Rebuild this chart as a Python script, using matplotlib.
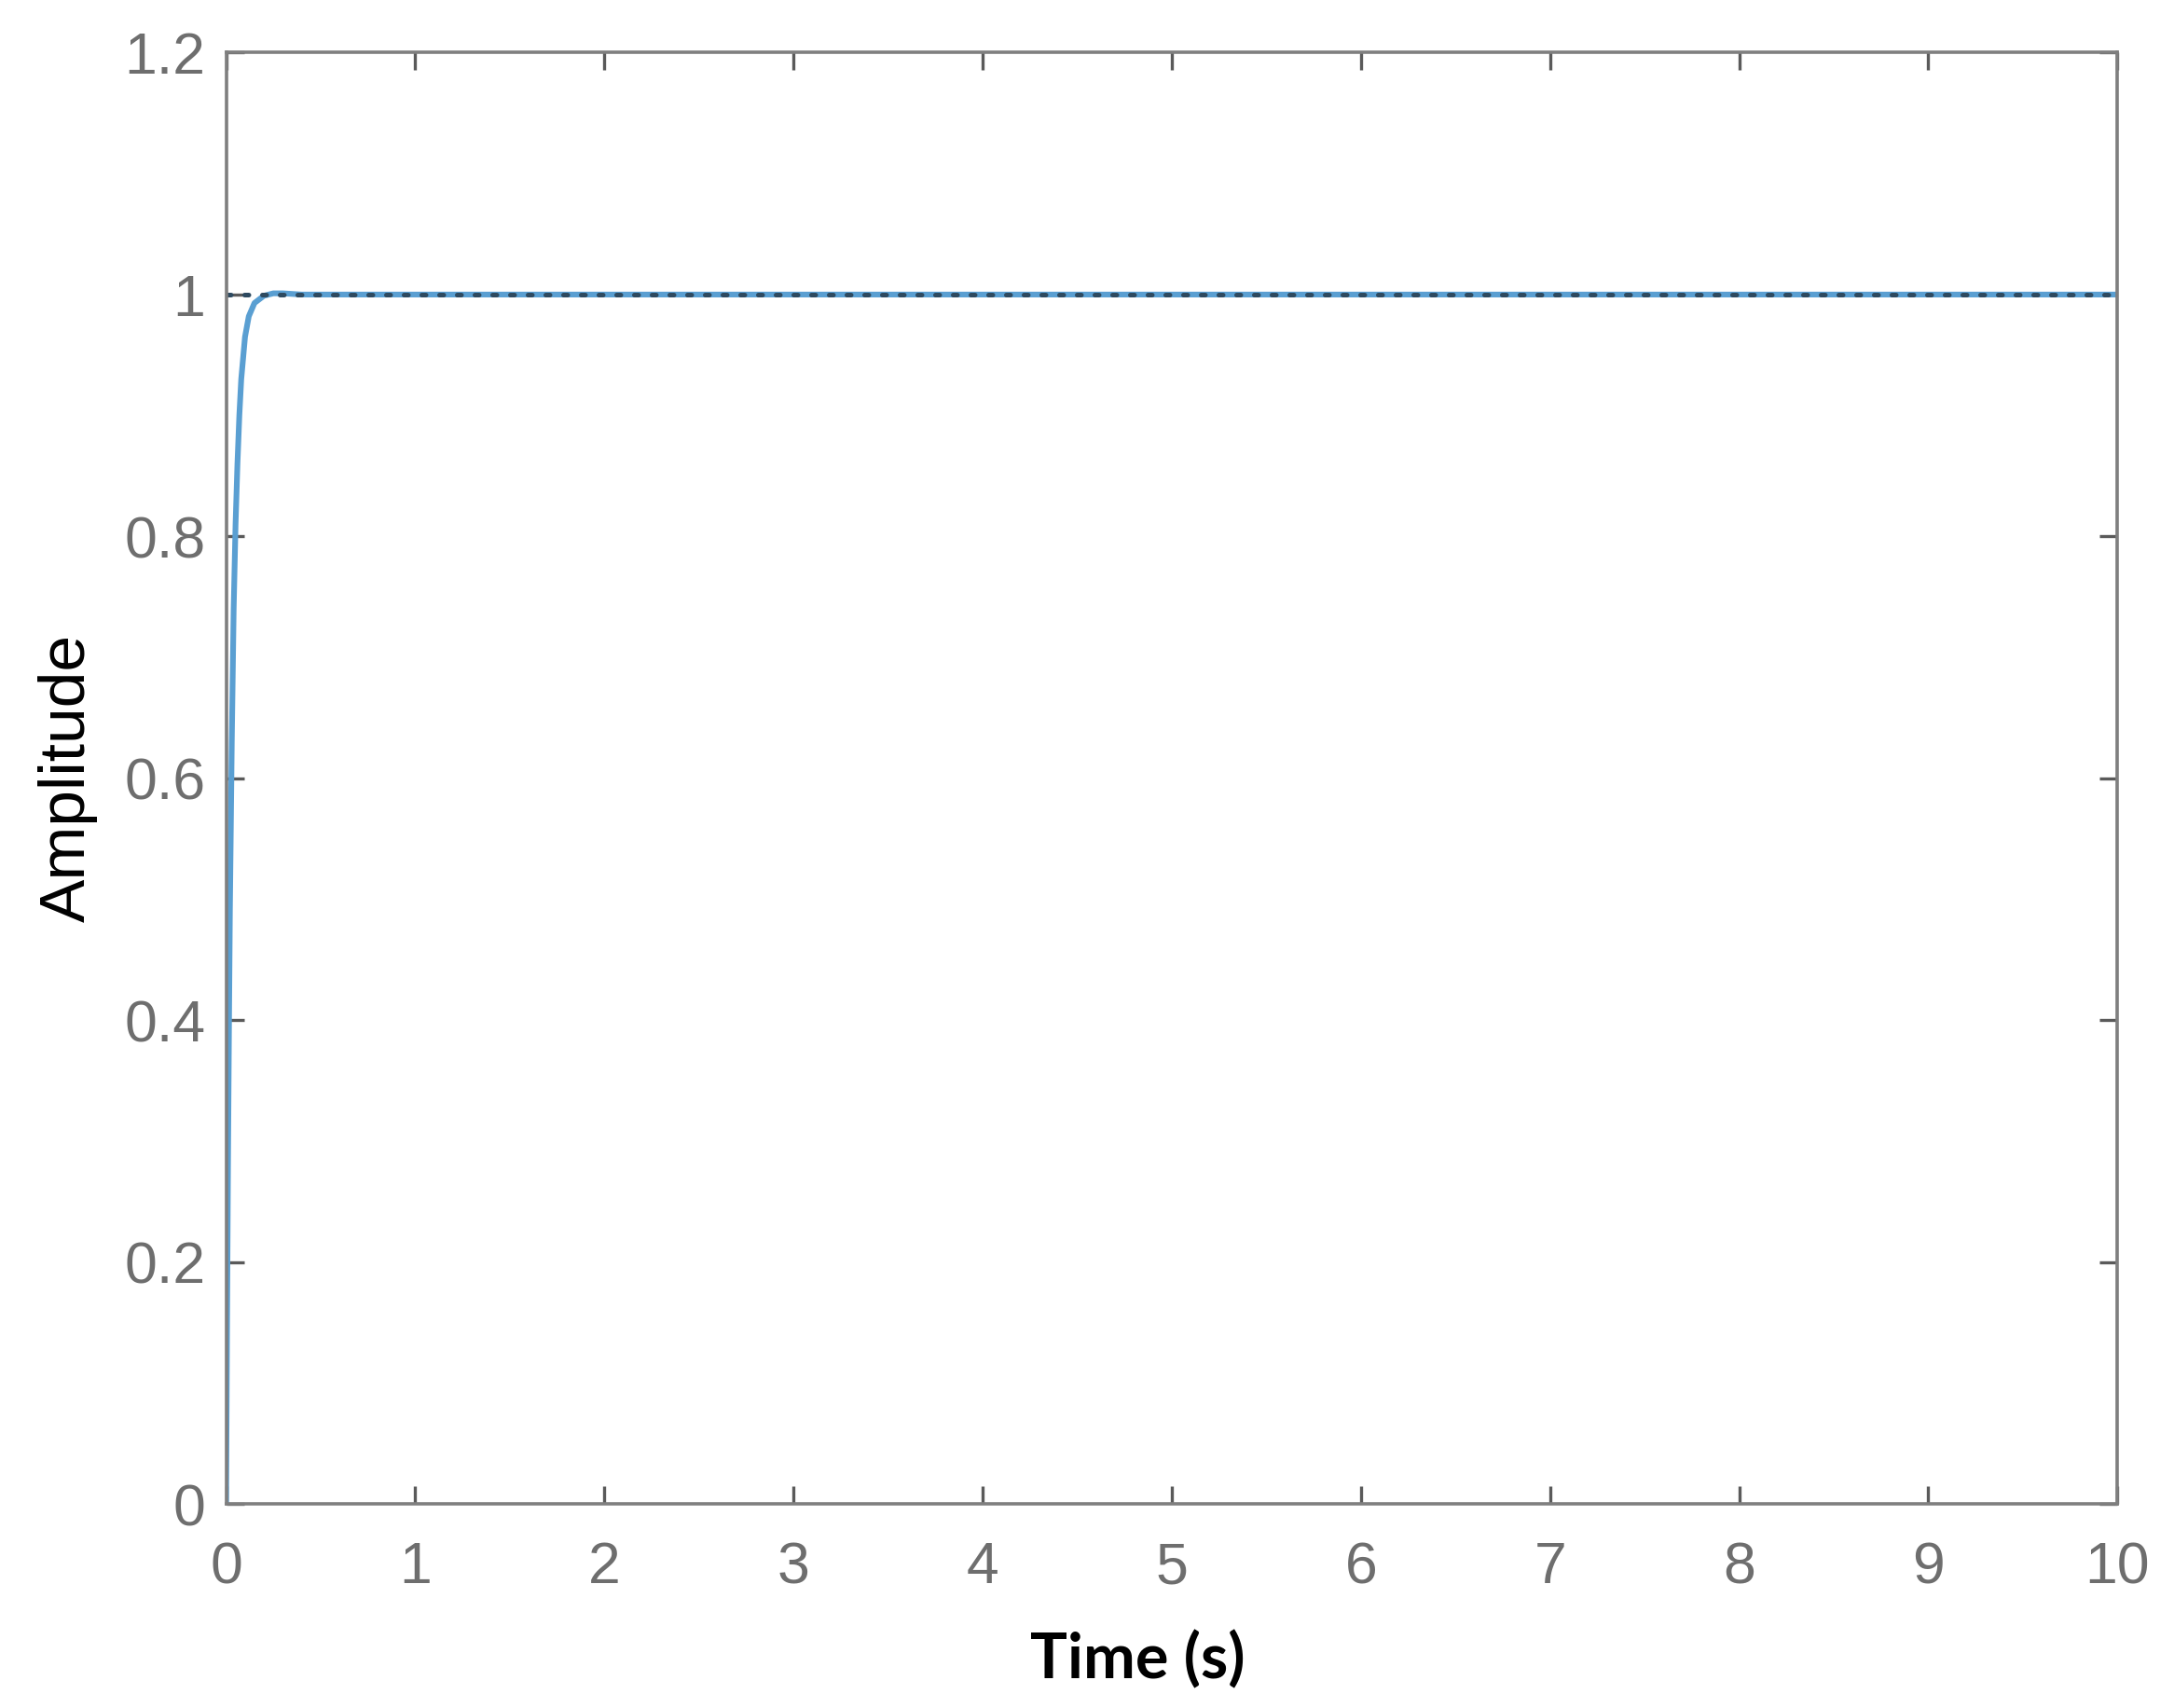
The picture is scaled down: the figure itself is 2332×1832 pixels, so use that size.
import matplotlib
matplotlib.use("Agg")
import matplotlib.pyplot as plt

# step response
time_s = [0, 0.005, 0.01, 0.015, 0.02, 0.03, 0.04, 0.05, 0.06, 0.07, 0.08,
          0.10, 0.12, 0.15, 0.20, 0.25, 0.30, 0.40, 10]
amplitude = [0, 0.15, 0.28, 0.39, 0.49, 0.63, 0.74, 0.81, 0.86, 0.90, 0.93,
             0.965, 0.982, 0.993, 0.999, 1.001, 1.001, 1.0, 1.0]
steady_t = [0, 10]
steady_y = [1.0, 1.0]

xticks = list(range(0, 11))
yticks = [0, 0.2, 0.4, 0.6, 0.8, 1, 1.2]
yticklabels = ["0", "0.2", "0.4", "0.6", "0.8", "1", "1.2"]

fig = plt.figure(figsize=(23.32, 18.32), dpi=100)
ax = fig.add_axes([0.104, 0.1193, 0.870, 0.8499])

ax.plot(time_s, amplitude, color="#5a9fd2", lw=4.4, solid_capstyle="round",
        solid_joinstyle="round")
ax.plot(steady_t, steady_y, color="#2e4a60", lw=3.6, linestyle=(0, (0.9, 2.9)),
        dash_capstyle="round")

ax.set_xlim(0, 10)
ax.set_ylim(0, 1.2)
ax.set_xticks(xticks)
ax.set_xticklabels([str(t) for t in xticks])
ax.set_yticks(yticks)
ax.set_yticklabels(yticklabels)

for s in ax.spines.values():
    s.set_color("#7f7f7f")
    s.set_linewidth(2.6)

ax.tick_params(axis="both", which="both", direction="in", length=14, width=2.4,
               color="#5a5a5a", top=True, right=True, labelcolor="#6e6e6e",
               labelsize=45)
ax.tick_params(axis="x", pad=28)
ax.tick_params(axis="y", pad=16)
for lab in ax.get_xticklabels() + ax.get_yticklabels():
    lab.set_family(["Liberation Sans", "DejaVu Sans"])

ax.set_ylabel("Amplitude", fontsize=50, family=["Liberation Sans", "DejaVu Sans"],
              color="black")
ax.yaxis.set_label_coords(-0.068, 0.5)
ax.set_xlabel("Time (s)", fontsize=48, family=["Lato", "DejaVu Sans"],
              fontweight="bold", color="black")
ax.xaxis.set_label_coords(0.482, -0.087)

fig.savefig("out.png", dpi=100, facecolor="white")
